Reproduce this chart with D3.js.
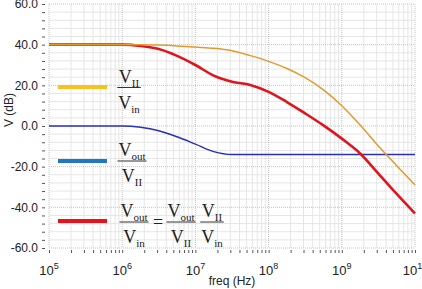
<!DOCTYPE html>
<html>
<head>
<meta charset="utf-8">
<script src="https://cdn.jsdelivr.net/npm/d3@7"></script>
<style>
  body { margin: 0; background: #fff; }
  svg { display: block; }
  text { font-family: "Liberation Sans", Arial, sans-serif; fill: #222; }
  .frac text { font-family: "Liberation Serif", "Times New Roman", serif; }
</style>
</head>
<body>
<svg id="chart" width="422" height="289"></svg>
<script>
const freqHz = [1e5, 3.16e5, 1e6, 1.78e6, 3.16e6, 5.62e6, 1e7, 1.78e7, 3.16e7, 5.62e7,
                1e8, 1.78e8, 3.16e8, 5.62e8, 1e9, 1.78e9, 3.16e9, 5.62e9, 1e10];
// V_II / V_in  (dB)
const gainIIin = [40, 40, 40, 39.9, 39.8, 39.4, 38.8, 38.2, 37.0, 34.6,
                  31.8, 28.3, 23.8, 17.8, 10.0, 0.5, -9.8, -19.5, -29];
// V_out / V_II  (dB)
const gainOutII = [0, 0, 0, -0.6, -2.3, -5.3, -8.9, -12.6, -14, -14,
                   -14, -14, -14, -14, -14, -14, -14, -14, -14];
// V_out / V_in  (dB)
const gainOutIn = [40, 40, 40, 39.4, 37.9, 34.5, 30.0, 24.8, 21.8, 20.2,
                   16.8, 11.8, 6.2, 0.3, -6.2, -13.5, -23.4, -33.4, -43];

const yTicks = [-60, -40, -20, 0, 20, 40, 60];
const xExps = [5, 6, 7, 8, 9, 10];

const svg = d3.select('#chart');
const plotL = 49, plotR = 415, plotT = 4, plotB = 248;

const x = d3.scaleLog().domain([1e5, 1e10]).range([plotL, plotR]);
const y = d3.scaleLinear().domain([-60, 60]).range([plotB, plotT]);

// minor values
const xMinor = [];
for (let e = 5; e < 10; e++) {
  for (let m = 2; m <= 9; m++) xMinor.push(m * Math.pow(10, e));
}
const yMinor = d3.range(-60, 61, 4).filter(v => v % 20 !== 0);

// grid
const grid = svg.append('g');
grid.selectAll('line.vmin').data(xMinor).enter().append('line')
  .attr('x1', d => x(d)).attr('x2', d => x(d))
  .attr('y1', plotT).attr('y2', plotB)
  .attr('stroke', '#e6e6e6').attr('stroke-width', 1);
grid.selectAll('line.hmin').data(yMinor).enter().append('line')
  .attr('x1', plotL).attr('x2', plotR)
  .attr('y1', d => y(d)).attr('y2', d => y(d))
  .attr('stroke', '#e6e6e6').attr('stroke-width', 1);
grid.selectAll('line.vmaj').data(xExps.map(e => Math.pow(10, e))).enter().append('line')
  .attr('x1', d => x(d)).attr('x2', d => x(d))
  .attr('y1', plotT).attr('y2', plotB)
  .attr('stroke', '#c4c4c4').attr('stroke-dasharray', '1,1');
grid.selectAll('line.hmaj').data(yTicks).enter().append('line')
  .attr('x1', plotL).attr('x2', plotR)
  .attr('y1', d => y(d)).attr('y2', d => y(d))
  .attr('stroke', '#c4c4c4').attr('stroke-dasharray', '1,1');

// y axis
const yAxis = svg.append('g').attr('transform', `translate(${plotL - 4},0)`)
  .call(d3.axisLeft(y).tickValues(yTicks).tickFormat(d => d.toFixed(1)).tickSize(3).tickPadding(4));
yAxis.select('.domain').remove();
yAxis.selectAll('line').attr('stroke', '#555');
yAxis.selectAll('text').style('font-size', '12px').attr('fill', '#222');
svg.append('g').attr('transform', `translate(${plotL - 4},0)`)
  .call(d3.axisLeft(y).tickValues(yMinor).tickFormat('').tickSize(3))
  .call(g => g.select('.domain').remove())
  .selectAll('line').attr('stroke', '#555');

// x axis
const xAxis = svg.append('g').attr('transform', `translate(0,${plotB + 2})`)
  .call(d3.axisBottom(x).tickValues(xExps.map(e => Math.pow(10, e))).tickFormat('').tickSize(3));
xAxis.select('.domain').remove();
xAxis.selectAll('line').attr('stroke', '#555');
svg.append('g').attr('transform', `translate(0,${plotB + 2})`)
  .call(d3.axisBottom(x).tickValues(xMinor).tickFormat('').tickSize(3))
  .call(g => g.select('.domain').remove())
  .selectAll('line').attr('stroke', '#555');

const xl = svg.append('g').selectAll('text').data(xExps).enter().append('text')
  .attr('x', d => x(Math.pow(10, d)))
  .attr('y', 275)
  .attr('text-anchor', 'middle')
  .style('font-size', '13px');
xl.append('tspan').text('10');
xl.append('tspan').attr('dy', -6).style('font-size', '9px').text(d => d);

svg.append('text').attr('x', 232).attr('y', 285).attr('text-anchor', 'middle')
  .style('font-size', '12px').text('freq (Hz)');
svg.append('text').attr('transform', 'translate(13,110) rotate(-90)')
  .attr('text-anchor', 'middle').style('font-size', '12px').text('V (dB)');

// curves
const line = (vals) => d3.line()
  .x((d, i) => x(freqHz[i]))
  .y(d => y(d))
  .curve(d3.curveMonotoneX)(vals);

svg.append('path').attr('d', line(gainOutII)).attr('fill', 'none')
  .attr('stroke', '#2a2fb8').attr('stroke-width', 1.5);
svg.append('path').attr('d', line(gainOutIn)).attr('fill', 'none')
  .attr('stroke', '#e0141c').attr('stroke-width', 2.6);
svg.append('path').attr('d', line(gainIIin)).attr('fill', 'none')
  .attr('stroke', '#e39a2c').attr('stroke-width', 1.5);

// legend
const legendItems = [
  { color: '#f7c21b', y: 87 },
  { color: '#1f78c2', y: 161 },
  { color: '#e8121c', y: 221 }
];
svg.selectAll('line.leg').data(legendItems).enter().append('line')
  .attr('x1', 58).attr('x2', 107)
  .attr('y1', d => d.y).attr('y2', d => d.y)
  .attr('stroke', d => d.color).attr('stroke-width', 4);

function frac(cx, by, num, den) {
  const g = svg.append('g').attr('class', 'frac');
  function part(p, yy) {
    const t = g.append('text').attr('x', cx).attr('y', yy).attr('text-anchor', 'middle')
      .style('font-size', '18px');
    t.append('tspan').text('V');
    t.append('tspan').attr('dy', 4).style('font-size', '11px').text(p);
    return t.node().getComputedTextLength();
  }
  const w = Math.max(part(num, by - 5), part(den, by + 21));
  g.append('line').attr('x1', cx - w / 2 - 1).attr('x2', cx + w / 2 + 1)
    .attr('y1', by).attr('y2', by).attr('stroke', '#333').attr('stroke-width', 1);
}

frac(129, 87.5, 'II', 'in');
frac(132, 161, 'out', 'II');
frac(134, 222, 'out', 'in');
svg.append('text').attr('class', 'frac').attr('x', 158).attr('y', 228)
  .attr('text-anchor', 'middle').style('font-size', '18px')
  .style('font-family', '"Liberation Serif", serif').text('=');
frac(181, 222, 'out', 'II');
frac(212, 222, 'II', 'in');
</script>
</body>
</html>
